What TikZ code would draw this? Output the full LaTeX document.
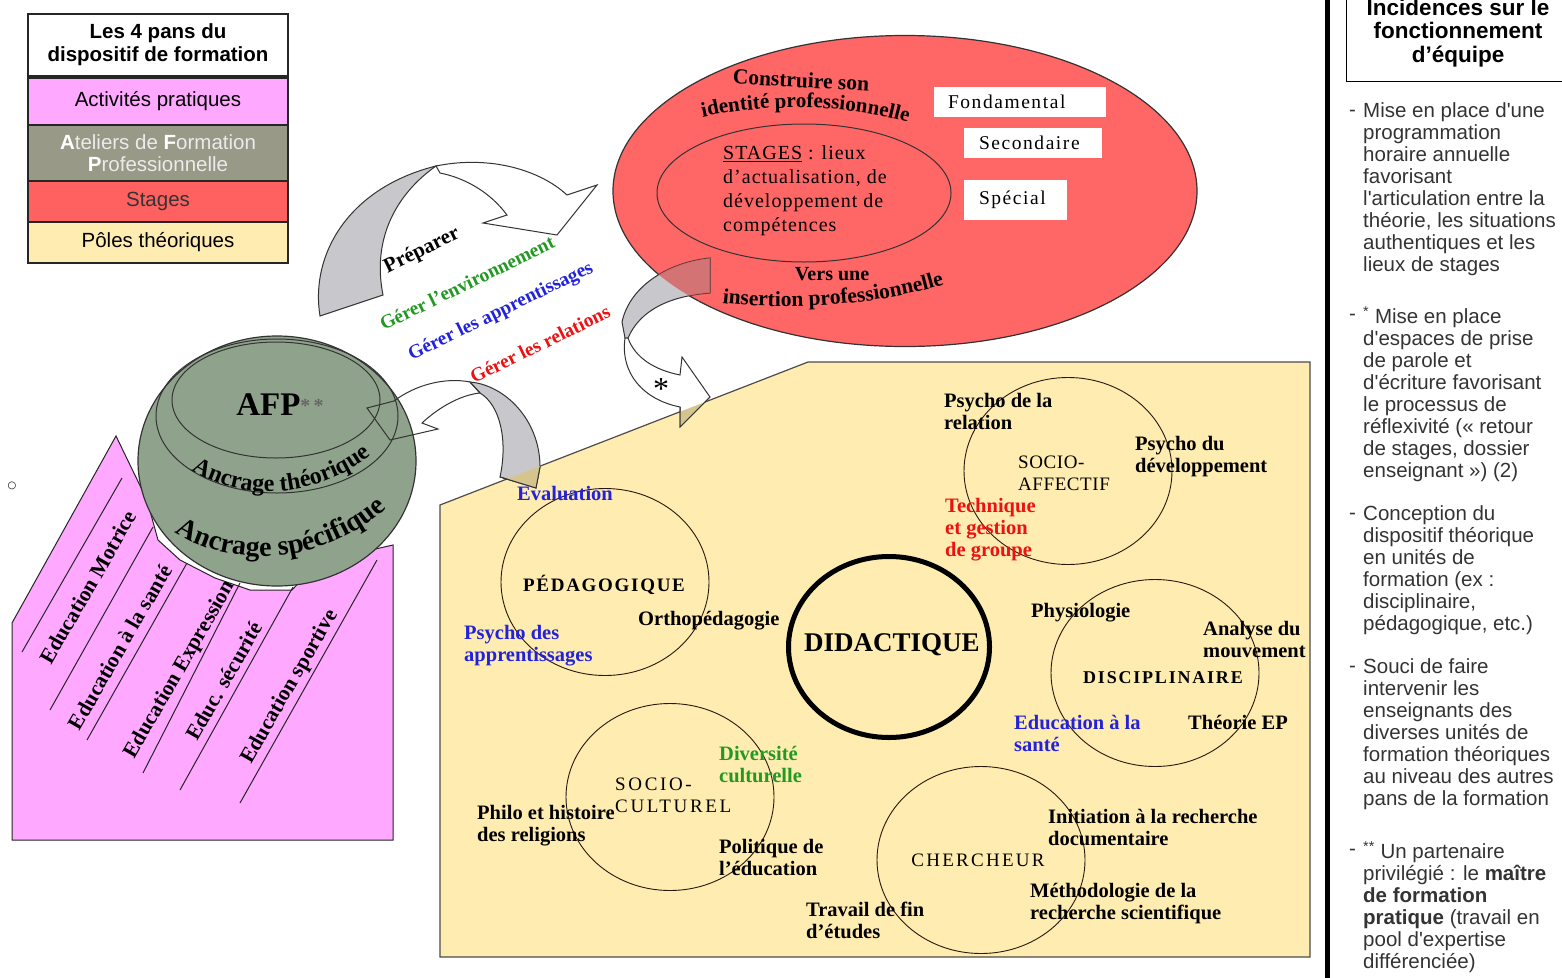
\documentclass[tikz,border=0pt]{standalone}
\usepackage{fontspec}
\setmainfont{Liberation Serif}
\newfontfamily\arial{Liberation Sans}
\newfontfamily\dejavu{DejaVu Sans}
\usetikzlibrary{shapes.geometric,decorations.text}
\definecolor{legpink}{HTML}{FFA8FF}
\definecolor{leggray}{HTML}{999988}
\definecolor{legred}{HTML}{FF6060}
\definecolor{legyel}{HTML}{FFECB0}
\definecolor{spherec}{HTML}{8FA38C}
\definecolor{redell}{HTML}{FF6666}
\definecolor{lblue}{HTML}{2222DD}
\definecolor{lgreen}{HTML}{229922}
\definecolor{lred}{HTML}{EE1111}
\definecolor{txtgray}{HTML}{333333}
\definecolor{arrgray}{HTML}{C8C8CC}
\definecolor{tanc}{HTML}{D6C48E}
\tikzset{
 outl/.style={draw=black!85, line width=1pt},
 legbox/.style={draw=black!85, line width=1.2pt, minimum width=260pt, inner sep=0pt, align=center, font=\arial\fontsize{20.5}{22}\selectfont},
 ring/.style={ellipse, draw=black!80!brown, line width=0.9pt, minimum width=208pt, minimum height=187pt, inner sep=0pt},
 lab/.style={font=\bfseries\fontsize{20.5}{22}\selectfont, align=left, anchor=west, inner sep=0pt},
 rtitle/.style={font=\fontsize{19}{22}\selectfont\addfontfeature{LetterSpace=8}, align=left, inner sep=0pt},
 gerer/.style={font=\bfseries\fontsize{19.5}{19.5}\selectfont, rotate=26, inner sep=0pt},
 inc/.style={font=\arial\fontsize{20.5}{22}\selectfont, text=txtgray, align=left, anchor=north west, inner sep=0pt},
 pinktxt/.style={font=\bfseries\fontsize{21.5}{21.5}\selectfont, rotate=60, inner sep=0pt},
 wbox/.style={fill=white, align=left, font=\fontsize{19.5}{19.5}\selectfont\addfontfeature{LetterSpace=8}},
}
\begin{document}
\begin{tikzpicture}[x=1pt,y=-1pt]
\useasboundingbox (0,0) rectangle (1562,977);

% ---------------- legend
\node[legbox, fill=white, minimum height=62pt, font=\arial\bfseries\fontsize{20.5}{23}\selectfont] (l0) at (158,45) {Les 4 pans du\\dispositif de formation};
\node[legbox, fill=legpink, minimum height=47pt] (l1) at (158,101.5) {Activités pratiques};
\node[legbox, fill=leggray, minimum height=56pt, text=black!8] (l2) at (158,153) {\textcolor{white}{\textbf{A}}teliers de \textcolor{white}{\textbf{F}}ormation\\\textcolor{white}{\textbf{P}}rofessionnelle};
\node[legbox, fill=legred, minimum height=41pt, text=black!80] (l3) at (158,201.5) {Stages};
\node[legbox, fill=legyel, minimum height=41pt] (l4) at (158,242.5) {Pôles théoriques};

% ---------------- right column
\draw[line width=5pt] (1327,-5) -- (1327,985);
\node[draw, line width=1.2pt, minimum width=240pt, minimum height=100pt, anchor=south west] (incbox) at (1346,82) {};
\node[font=\arial\bfseries\fontsize{22.5}{23.5}\selectfont, align=center, inner sep=0pt] (inctitle) at (1458,33) {Incidences sur le\\fonctionnement\\d’équipe};
\node[inc] (d1) at (1349,102) {\vphantom{Mp}-};
\node[inc] (p1) at (1363,102) {Mise en place d'une\\programmation\\horaire annuelle\\favorisant\\l'articulation entre la\\théorie, les situations\\authentiques et les\\lieux de stages};
\node[inc] (d2) at (1349,306) {\vphantom{Mp}-};
\node[inc] (p2) at (1363,306) {\textsuperscript{*} Mise en place\\d'espaces de prise\\de parole et\\d'écriture favorisant\\le processus de\\réflexivité (« retour\\de stages, dossier\\enseignant ») (2)};
\node[inc] (d3) at (1349,505) {\vphantom{Mp}-};
\node[inc] (p3) at (1363,505) {Conception du\\dispositif théorique\\en unités de\\formation (ex :\\disciplinaire,\\pédagogique, etc.)};
\node[inc] (d4) at (1349,658) {\vphantom{Mp}-};
\node[inc] (p4) at (1363,658) {Souci de faire\\intervenir les\\enseignants des\\diverses unités de\\formation théoriques\\au niveau des autres\\pans de la formation};
\node[inc] (d5) at (1349,841) {\vphantom{Mp}-};
\node[inc] (p5) at (1363,841) {\textsuperscript{**} Un partenaire\\privilégié : le \textbf{maître}\\\textbf{de formation}\\\textbf{pratique} (travail en\\pool d'expertise\\différenciée)};

% ---------------- yellow area
\draw[fill=legyel, draw=black!70, line width=1.2pt] (440,505) -- (808,362) -- (1310,362) -- (1310,957) -- (440,957) -- cycle;

% ---------------- red ellipse
\node[ellipse, draw=black!80, line width=1.2pt, fill=redell, minimum width=584pt, minimum height=311pt, inner sep=0pt] (stg) at (905,191) {};
\node[ellipse, draw=black!80, line width=1pt, minimum width=294pt, minimum height=138pt, inner sep=0pt] (stgin) at (804,193) {};
\node[font=\fontsize{20}{24}\selectfont\addfontfeature{LetterSpace=5}, align=left, anchor=west, inner sep=0pt] (stgt) at (723,191) {\underline{STAGES} : lieux\\d’actualisation, de\\développement de\\compétences};
\node[font=\bfseries\fontsize{21.5}{21.5}\selectfont, rotate=-3] (cons) at (801,80) {Construire son};
\path[decorate, decoration={text along path, text align=center, text={|\bfseries\fontsize{21}{21}\selectfont|identité professionnelle}}] (694,119) .. controls (760,103) and (850,103) .. (916,125);
\node[font=\bfseries\fontsize{20}{20}\selectfont] (vers) at (832,274) {Vers une};
\path[decorate, decoration={text along path, text align=center, text={|\bfseries\fontsize{21.5}{21.5}\selectfont|insertion professionnelle}}] (712,302) .. controls (780,311) and (880,307) .. (954,281);
\node[wbox, minimum height=30pt, text width=144pt, inner xsep=14pt] (fond) at (1020,102) {Fondamental};
\node[wbox, minimum height=30pt, text width=108pt, inner xsep=15pt] (sec) at (1033,143) {Secondaire};
\node[wbox, minimum height=40pt, text width=73pt, inner xsep=15pt] (spec) at (1015.5,200) {Spécial};

% ---------------- arrow C (stages -> theory)
\path[fill=arrgray, draw=black!80, line width=1pt] (710,258) .. controls (670,262) and (630,285) .. (622,322) -- (625,338) -- (628,338) .. controls (640,310) and (670,296) .. (710,293) -- cycle;
\begin{scope}
\clip (905,191) ellipse [x radius=292pt, y radius=155.5pt];
\fill[redell!85!black, opacity=.75] (710,258) .. controls (670,262) and (630,285) .. (622,322) -- (625,338) -- (628,338) .. controls (640,310) and (670,296) .. (710,293) -- cycle;
\end{scope}
\draw[black!80, line width=1pt, fill=white] (625,338) .. controls (620,375) and (645,400) .. (680,407) -- (680,427) -- (710,397) -- (682,357) -- (680,375) .. controls (655,370) and (635,358) .. (628,338) -- cycle;
\begin{scope}
\clip (440,505) -- (808,362) -- (1310,362) -- (1310,957) -- (440,957) -- cycle;
\fill[tanc] (625,338) .. controls (620,375) and (645,400) .. (680,407) -- (680,427) -- (710,397) -- (682,357) -- (680,375) .. controls (655,370) and (635,358) .. (628,338) -- cycle;
\end{scope}
\draw[black!80, line width=1pt] (680,407) -- (680,427) -- (710,397);
\node[font=\fontsize{32}{32}\selectfont] (star) at (661,389) {*};

% ---------------- arrow A (Préparer)
\path[fill=arrgray, draw=black!80, line width=1pt] (320,316) .. controls (310,255) and (348,188) .. (436,166) .. controls (395,195) and (372,240) .. (383,295) -- cycle;
\path[fill=white, draw=black!80, line width=1pt] (436,166) .. controls (490,155) and (540,170) .. (567,195) -- (597,185) -- (557,235) -- (483,223) -- (507,215) .. controls (490,192) and (465,178) .. (440,173) -- cycle;
\node[font=\bfseries\fontsize{21}{21}\selectfont, rotate=26, inner sep=0pt] (prep) at (422,251) {Préparer};
\node[gerer, text=lgreen] (g1) at (467,283) {Gérer l'environnement};
\node[gerer, text=lblue] (g2) at (501,312) {Gérer les apprentissages};
\node[gerer, text=lred] (g3) at (540,344) {Gérer les relations};

% ---------------- pink area
\draw[outl, fill=legpink] (12,840) -- (12,623) -- (116,436) -- (147,500) -- (158,540) -- (180,560) -- (215,578) -- (250,590) -- (292,590) -- (318,562) -- (393,545) -- (393,840) -- cycle;
\draw[outl] (22,652) -- (122,478);
\draw[outl] (50,710) -- (153,527);
\draw[outl] (87,740) -- (187,563);
\draw[outl] (143,773) -- (240,583);
\draw[outl] (180,790) -- (293,587);
\draw[outl] (240,803) -- (377,560);
\node[pinktxt] (em) at (88,587) {Education Motrice};
\node[pinktxt] (es) at (120,647) {Education à la santé};
\node[pinktxt] (ee) at (180,670) {Education Expression};
\node[pinktxt] (esec) at (224,681) {Educ. sécurité};
\node[pinktxt] (esp) at (290,687) {Education sportive};
\node[font=\dejavu\fontsize{10}{10}\selectfont] (bul) at (12,486) {○};

% ---------------- sphere AFP
\node[ellipse, draw=black!80, line width=1.2pt, fill=spherec, minimum width=278pt, minimum height=250pt, inner sep=0pt] (afp) at (277,461) {};
\node[ellipse, draw=black!80, line width=1pt, minimum width=242pt, minimum height=154pt, inner sep=0pt] (afp2) at (277,416) {};
\node[ellipse, draw=black!80, line width=1pt, minimum width=208pt, minimum height=116pt, inner sep=0pt] (afp1) at (276,400) {};
\node[font=\bfseries\fontsize{33}{33}\selectfont] (afpt) at (280,405) {AFP\raisebox{3pt}{\fontsize{20}{20}\selectfont\textcolor{black!60}{*\,*}}};
\path[decorate, decoration={text along path, text align=center, text={|\bfseries\fontsize{24}{24}\selectfont|Ancrage théorique}}] (180,462) .. controls (232,505) and (322,502) .. (382,446);
\path[decorate, decoration={text along path, text align=center, text={|\bfseries\fontsize{28}{28}\selectfont|Ancrage spécifique}}] (162,522) .. controls (218,572) and (332,570) .. (398,496);

% ---------------- arrow B (AFP <- theory)
\path[fill=arrgray, draw=black!80, line width=1pt] (470,382) .. controls (505,385) and (540,420) .. (540,467) -- (536,488) -- (500,477) .. controls (508,440) and (500,405) .. (480,393) -- cycle;
\begin{scope}
\clip (440,505) -- (808,362) -- (1310,362) -- (1310,957) -- (440,957) -- cycle;
\fill[tanc] (470,382) .. controls (505,385) and (540,420) .. (540,467) -- (536,488) -- (500,477) .. controls (508,440) and (500,405) .. (480,393) -- cycle;
\end{scope}
\draw[black!80, line width=1pt] (540,467) -- (536,488) -- (500,477);
\draw[black!80, line width=1pt] (367,408) -- (394,401) .. controls (415,385) and (445,377) .. (470,382) -- (480,393) .. controls (460,395) and (438,408) .. (422,423) -- (438,429) -- (390,440) -- cycle;

% ---------------- theory circles
\node[ring] (ped) at (605,582) {};
\node[ring] (saf) at (1068,471) {};
\node[ring] (dis) at (1155,673) {};
\node[ring] (scu) at (670,797) {};
\node[ring] (che) at (981,860) {};
\node[ellipse, draw, line width=5pt, minimum width=201pt, minimum height=181pt, inner sep=0pt] (did) at (889,647) {};
\node[font=\bfseries\fontsize{27}{27}\selectfont, inner sep=0pt] (didt) at (892,645) {DIDACTIQUE};

\node[rtitle, font=\bfseries\fontsize{19}{22}\selectfont\addfontfeature{LetterSpace=9}] (pedt) at (604,585) {PÉDAGOGIQUE};
\node[rtitle, anchor=west, font=\fontsize{19}{22}\selectfont\addfontfeature{LetterSpace=3}] (saft) at (1018,473) {SOCIO-\\AFFECTIF};
\node[rtitle, font=\bfseries\fontsize{18}{22}\selectfont\addfontfeature{LetterSpace=10}] (dist) at (1163,678) {DISCIPLINAIRE};
\node[rtitle, anchor=west, font=\fontsize{19}{22}\selectfont\addfontfeature{LetterSpace=14}] (scut) at (615,795) {SOCIO-\\CULTUREL};
\node[rtitle, font=\fontsize{19}{22}\selectfont\addfontfeature{LetterSpace=12}] (chet) at (978,860) {CHERCHEUR};

\node[lab, text=lblue, anchor=center] (eval) at (565,494) {Evaluation};
\node[lab] (ortho) at (638,621) {Orthopédagogie};
\node[lab, text=lblue] (psyap) at (464,646) {Psycho des\\apprentissages};
\node[lab] (psyrel) at (944,411) {Psycho de la\\relation};
\node[lab] (psydev) at (1135,457) {Psycho du\\développement};
\node[lab, text=lred] (tech) at (945,530) {Technique\\et gestion\\de groupe};
\node[lab] (phys) at (1031,613) {Physiologie};
\node[lab] (anal) at (1203,640) {Analyse du\\mouvement};
\node[lab] (theo) at (1188,722) {Théorie EP};
\node[lab, text=lblue] (edsan) at (1014,733) {Education à la\\santé};
\node[lab, text=lgreen] (div) at (719,764) {Diversité\\culturelle};
\node[lab] (philo) at (477,826) {Philo et histoire\\des religions};
\node[lab] (poli) at (719,857) {Politique de\\l’éducation};
\node[lab] (init) at (1048,827) {Initiation à la recherche\\documentaire};
\node[lab] (meth) at (1030,904) {Méthodologie de la\\recherche scientifique};
\node[lab] (trav) at (806,920) {Travail de fin\\d’études};
\end{tikzpicture}
\end{document}
